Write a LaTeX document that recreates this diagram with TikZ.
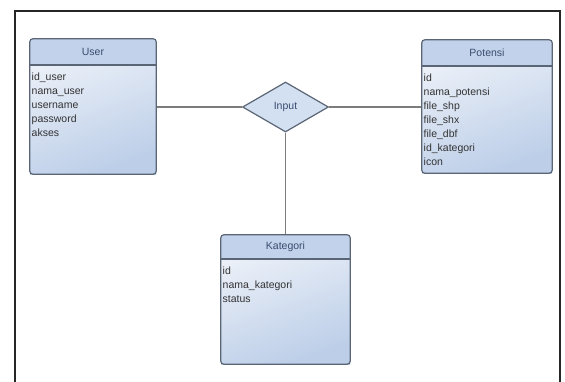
\documentclass[tikz,border=0pt]{standalone}
\usepackage{fontspec}
\setmainfont{Liberation Sans}
\usetikzlibrary{shapes.geometric,calc}
\definecolor{bordc}{HTML}{5A6575}
\definecolor{hdrc}{HTML}{C2D2EA}
\definecolor{bodyt}{HTML}{EEF2F9}
\definecolor{bodyb}{HTML}{BCCEE8}
\definecolor{linec}{HTML}{7C7C7C}
\definecolor{titc}{HTML}{3A4C70}
\definecolor{attc}{HTML}{333333}
\definecolor{diaf}{HTML}{D3E0F1}
\newcommand\erentity[8]{%
  \node[entitybox, minimum width={#4-#2}, minimum height={#5-#3}] (#1) at ({(#2+#4)/2},{(#3+#5)/2}) {};
  \begin{scope}
    \clip[rounded corners=3pt] (#1.north west) rectangle (#1.south east);
    \fill[hdrc] (#1.north west) rectangle (#4,#6);
  \end{scope}
  \draw[bordline] (#2,#6) -- (#4,#6);
  \draw[bordline, rounded corners=3pt] (#1.north west) rectangle (#1.south east);
  \node[titletext] (#1-t) at ({(#2+#4)/2},{(#3+#6)/2}) {#7};
  \foreach \a [count=\i] in {#8} {
    \node[attrtext, anchor=base west] (#1-\i) at ({#2+1.5},{#6+15.5+14*(\i-1)}) {\a};
  }
}
\begin{document}
\begin{tikzpicture}[x=1pt,y=-1pt,
  entitybox/.style={rectangle, inner sep=0pt, top color=bodyt, bottom color=bodyb, shading angle=20},
  bordline/.style={draw=bordc, line width=1.2pt},
  titletext/.style={inner sep=0pt, text=titc, font=\fontsize{10.5}{12}\selectfont},
  attrtext/.style={inner sep=0pt, text=attc, font=\fontsize{10.5}{12}\selectfont},
  conn/.style={draw=linec, line width=1.3pt},
  relbox/.style={diamond, draw=bordc, line width=1.2pt, fill=diaf, minimum width=86pt, minimum height=50pt, inner sep=0pt, text=titc, font=\fontsize{10.5}{12}\selectfont}]
\useasboundingbox (0,0) rectangle (565,381);
\fill[white] (0,0) rectangle (565,381);
\draw[line width=1.5pt, black!85] (15,395) -- (15,11) -- (560,11) -- (560,395);
\node[relbox] (input) at (285.5,107) {Input};
\coordinate (uanchor) at (156,107);
\coordinate (panchor) at (422,107);
\coordinate (kanchor) at (285.5,235);
\draw[conn] (input.west) -- (uanchor);
\draw[conn] (input.east) -- (panchor);
\draw[conn] (input.south) -- (kanchor);
\erentity{user}{30}{39}{156}{174}{65}{User}{id\_user,nama\_user,username,password,akses}
\erentity{pot}{422}{40}{552}{173}{66}{Potensi}{id,nama\_potensi,file\_shp,file\_shx,file\_dbf,id\_kategori,icon}
\erentity{kat}{221}{235}{350}{364}{259}{Kategori}{id,nama\_kategori,status}
\end{tikzpicture}
\end{document}
